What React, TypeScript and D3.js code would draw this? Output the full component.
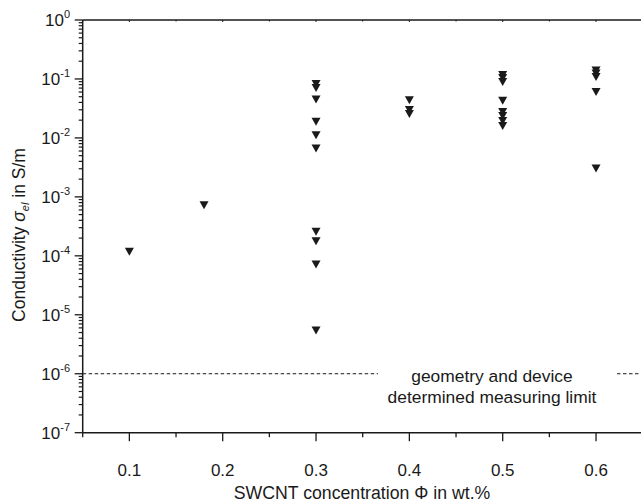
import React from "react";
import * as d3 from "d3";

const concentration = [
  0.1, 0.18,
  0.3, 0.3, 0.3, 0.3, 0.3, 0.3, 0.3, 0.3, 0.3, 0.3,
  0.4, 0.4, 0.4,
  0.5, 0.5, 0.5, 0.5, 0.5, 0.5, 0.5, 0.5,
  0.6, 0.6, 0.6, 0.6, 0.6,
];
const conductivity = [
  1.17e-4, 7.2e-4,
  0.082, 0.07, 0.045, 0.0188, 0.0111, 0.0066, 2.57e-4, 1.76e-4, 7.1e-5, 5.4e-6,
  0.0435, 0.0298, 0.0255,
  0.117, 0.104, 0.089, 0.0428, 0.0275, 0.0235, 0.0194, 0.0159,
  0.139, 0.124, 0.108, 0.06, 0.00303,
];
const xTicks = [0.1, 0.2, 0.3, 0.4, 0.5, 0.6];
const xMinorTicks = [0.05, 0.15, 0.25, 0.35, 0.45, 0.55, 0.65];
const yExponents = [0, -1, -2, -3, -4, -5, -6, -7];
const measuringLimit = 1e-6;
const limitText = ["geometry and device", "determined measuring limit"];

const W = 641;
const H = 502;
const FONT = "'Liberation Sans', Arial, Helvetica, sans-serif";
const INK = "#1a1a1a";

export default function App() {
  const x = d3.scaleLinear().domain([0.05, 0.65]).range([82.7, 642.7]);
  const y = d3.scaleLog().domain([1e-7, 1]).range([432.7, 20]);
  const x0 = x(0.05);
  const yBottom = y(1e-7);
  const yTop = y(1);

  const yMinor: number[] = [];
  for (let e = -7; e < 0; e++) {
    for (let m = 2; m <= 9; m++) yMinor.push(m * Math.pow(10, e));
  }

  const tri = (cx: number, cy: number) =>
    `M${cx - 4.5},${cy - 4}L${cx + 4.5},${cy - 4}L${cx},${cy + 4}Z`;

  const yl = y(measuringLimit);

  return (
    <svg
      width={W}
      height={H}
      style={{ position: "absolute", left: 0, top: 0, background: "#fff" }}
      fontFamily={FONT}
    >
      {/* dashed measuring limit */}
      <line x1={x0} x2={378} y1={yl} y2={yl} stroke={INK} strokeWidth={1} strokeDasharray="3.5,2.5" />
      <line x1={617} x2={W} y1={yl} y2={yl} stroke={INK} strokeWidth={1} strokeDasharray="3.5,2.5" />
      <text x={492} y={382} textAnchor="middle" fontSize={17.4} fill={INK}>{limitText[0]}</text>
      <text x={492} y={403} textAnchor="middle" fontSize={17.4} fill={INK}>{limitText[1]}</text>

      {/* axes */}
      <line x1={x0} x2={W} y1={yBottom} y2={yBottom} stroke={INK} strokeWidth={1.5} />
      <line x1={x0} x2={W} y1={yTop} y2={yTop} stroke={INK} strokeWidth={1.5} />
      <line x1={x0} x2={x0} y1={yTop} y2={yBottom} stroke={INK} strokeWidth={1.5} />

      {/* x ticks */}
      {xTicks.map((t) => (
        <g key={"xt" + t}>
          <line x1={x(t)} x2={x(t)} y1={yBottom} y2={yBottom + 8.5} stroke={INK} strokeWidth={1.3} />
          <line x1={x(t)} x2={x(t)} y1={yTop} y2={yTop + 2} stroke={INK} strokeWidth={1} />
          <text x={x(t)} y={476} textAnchor="middle" fontSize={17} fill={INK}>
            {t.toFixed(1)}
          </text>
        </g>
      ))}
      {xMinorTicks.map((t) => (
        <g key={"xm" + t}>
          <line x1={x(t)} x2={x(t)} y1={yBottom} y2={yBottom + 4.5} stroke={INK} strokeWidth={1.3} />
          <line x1={x(t)} x2={x(t)} y1={yTop} y2={yTop + 1.5} stroke={INK} strokeWidth={1} />
        </g>
      ))}

      {/* y ticks */}
      {yMinor.map((v, i) => (
        <line key={"ym" + i} x1={x0 - 4} x2={x0} y1={y(v)} y2={y(v)} stroke={INK} strokeWidth={1.2} />
      ))}
      {yExponents.map((e) => (
        <g key={"yt" + e}>
          <line x1={x0 - 8} x2={x0} y1={y(Math.pow(10, e))} y2={y(Math.pow(10, e))} stroke={INK} strokeWidth={1.3} />
          <text x={70} y={y(Math.pow(10, e)) + 6} textAnchor="end" fontSize={17} fill={INK}>
            10
            <tspan fontSize={11} dy={-8}>{e === 0 ? "0" : "-" + Math.abs(e)}</tspan>
          </text>
        </g>
      ))}

      {/* data */}
      {concentration.map((c, i) => (
        <path key={"p" + i} d={tri(x(c), y(conductivity[i]))} fill={INK} />
      ))}

      {/* titles */}
      <text x={362} y={499} textAnchor="middle" fontSize={17.7} fill={INK}>
        SWCNT concentration Φ in wt.%
      </text>
      <text
        transform={`translate(25,235) rotate(-90)`}
        textAnchor="middle"
        fontSize={17.5}
        fill={INK}
      >
        Conductivity <tspan fontStyle="italic">σ</tspan>
        <tspan fontStyle="italic" fontSize={11} dy={4}>el</tspan>
        <tspan dy={-4}> in S/m</tspan>
      </text>
    </svg>
  );
}
